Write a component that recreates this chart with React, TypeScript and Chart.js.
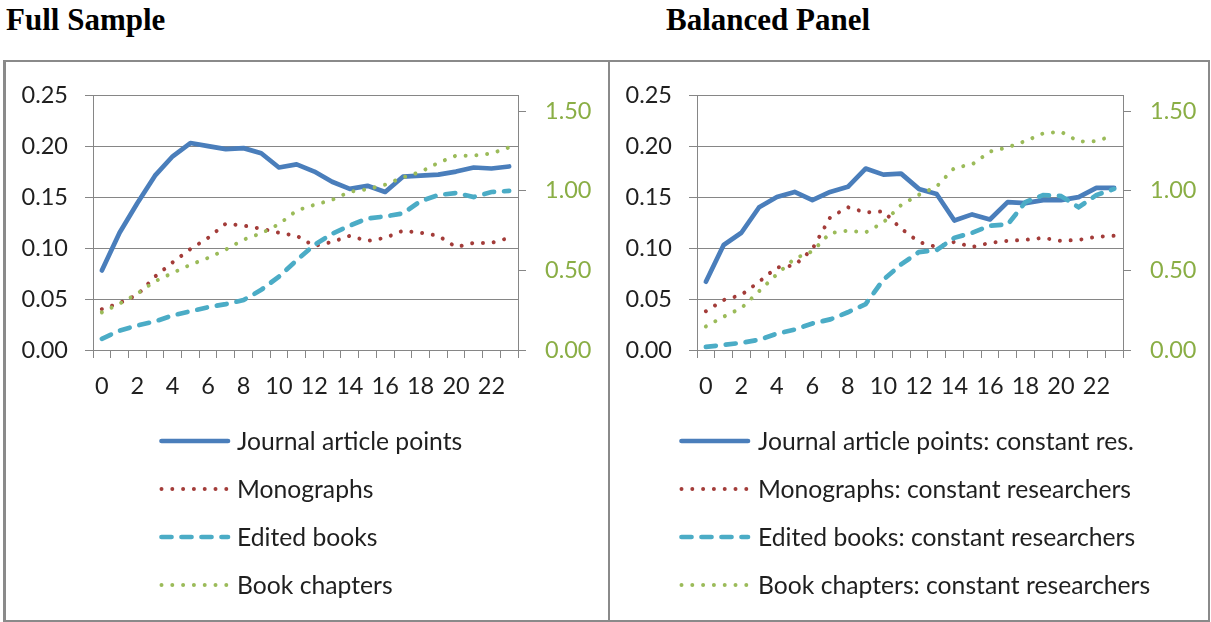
import React, { useEffect, useRef } from 'react';
import { Chart, registerables } from 'chart.js';

Chart.register(...registerables);

const categories = ['0','1','2','3','4','5','6','7','8','9','10','11','12','13','14','15','16','17','18','19','20','21','22','23'];
const shownXTicks = ['0','2','4','6','8','10','12','14','16','18','20','22'];

const fullJournal = [0.078,0.115,0.144,0.171,0.190,0.203,0.200,0.197,0.198,0.193,0.179,0.182,0.175,0.165,0.158,0.161,0.155,0.170,0.171,0.172,0.175,0.179,0.178,0.180];
const fullMonographs = [0.040,0.046,0.054,0.072,0.086,0.099,0.110,0.124,0.122,0.119,0.115,0.112,0.102,0.106,0.112,0.107,0.110,0.117,0.115,0.112,0.101,0.105,0.105,0.110];
const fullEdited = [0.011,0.019,0.024,0.028,0.034,0.038,0.042,0.045,0.049,0.059,0.072,0.088,0.103,0.114,0.122,0.129,0.131,0.134,0.146,0.152,0.154,0.150,0.155,0.156];
const fullChapters = [0.236,0.291,0.353,0.431,0.484,0.535,0.578,0.630,0.693,0.732,0.790,0.875,0.911,0.942,0.993,1.009,1.038,1.083,1.118,1.175,1.220,1.220,1.233,1.272];

const balJournal = [0.067,0.103,0.115,0.140,0.150,0.155,0.147,0.155,0.160,0.178,0.172,0.173,0.158,0.153,0.127,0.133,0.128,0.145,0.144,0.147,0.147,0.150,0.159,0.159];
const balMonographs = [0.038,0.049,0.054,0.067,0.081,0.083,0.099,0.130,0.140,0.135,0.136,0.119,0.106,0.101,0.106,0.101,0.105,0.107,0.108,0.110,0.107,0.108,0.111,0.112];
const balEdited = [0.003,0.005,0.007,0.010,0.016,0.020,0.026,0.030,0.037,0.045,0.069,0.084,0.096,0.098,0.110,0.115,0.122,0.123,0.145,0.152,0.151,0.140,0.152,0.158];
const balChapters = [0.148,0.209,0.263,0.369,0.476,0.574,0.619,0.734,0.749,0.738,0.800,0.910,0.974,1.026,1.143,1.165,1.245,1.272,1.311,1.360,1.370,1.309,1.311,1.348];

const fullLabels = ['Journal article points', 'Monographs', 'Edited books', 'Book chapters'];
const balLabels = [
  'Journal article points: constant res.',
  'Monographs: constant researchers',
  'Edited books: constant researchers',
  'Book chapters: constant researchers',
];

const leftTicks = [0, 0.05, 0.1, 0.15, 0.2, 0.25];
const rightTicks = [0, 0.5, 1.0, 1.5];

const BLUE = '#4A7EBB';
const RED = '#A33C39';
const CYAN = '#4BACC6';
const GREEN = '#9BBB59';
const AXIS = '#868686';
const TEXT = '#1f1f1f';
const FONT = 'Lato';

const legendPlugin = {
  id: 'vlegend',
  afterDraw(chart: any, _args: any, opts: any) {
    const ctx = chart.ctx;
    chart.data.datasets.forEach((ds: any, i: number) => {
      const y = opts.rows[i];
      ctx.save();
      ctx.strokeStyle = ds.borderColor;
      ctx.lineWidth = ds.borderWidth;
      ctx.lineCap = ds.borderCapStyle || 'butt';
      ctx.setLineDash(ds.borderDash || []);
      ctx.beginPath();
      const dotted = ds.borderDash && ds.borderDash[0] < 1;
      ctx.moveTo(opts.lineX0, y);
      ctx.lineTo(dotted ? opts.dotX1 : opts.lineX1, y);
      ctx.stroke();
      ctx.setLineDash([]);
      ctx.fillStyle = TEXT;
      ctx.font = `24.7px ${FONT}`;
      ctx.textBaseline = 'middle';
      ctx.textAlign = 'left';
      ctx.fillText(ds.label, opts.textX, y + 1);
      ctx.restore();
    });
  },
};

type PanelProps = {
  left: number;
  width: number;
  labels: string[];
  series: number[][];
  yLeftWidth: number;
  yRightWidth: number;
  legend: { lineX0: number; lineX1: number; dotX1: number; textX: number; rows: number[] };
};

function Panel(props: PanelProps) {
  const ref = useRef<HTMLCanvasElement>(null);
  useEffect(() => {
    if (!ref.current) return;
    const [j, m, e, c] = props.series;
    const chart = new Chart(ref.current, {
      type: 'line',
      data: {
        labels: categories,
        datasets: [
          { label: props.labels[0], data: j, yAxisID: 'y', borderColor: BLUE, borderWidth: 4.7, borderCapStyle: 'round', borderJoinStyle: 'round', pointRadius: 0, tension: 0, order: 3 } as any,
          { label: props.labels[1], data: m, yAxisID: 'y', borderColor: RED, borderWidth: 4, borderDash: [0.001, 10.8], borderCapStyle: 'round', pointRadius: 0, tension: 0, order: 2 } as any,
          { label: props.labels[2], data: e, yAxisID: 'y', borderColor: CYAN, borderWidth: 4.7, borderDash: [10, 10], borderCapStyle: 'round', pointRadius: 0, tension: 0, order: 1 } as any,
          { label: props.labels[3], data: c, yAxisID: 'y2', borderColor: GREEN, borderWidth: 4, borderDash: [0.001, 10.8], borderCapStyle: 'round', pointRadius: 0, tension: 0, order: 0 } as any,
        ],
      },
      options: {
        animation: false,
        responsive: false,
        events: [],
        layout: { padding: { top: 28, left: 0, right: 0, bottom: 0 } },
        plugins: {
          legend: { display: false },
          tooltip: { enabled: false },
          vlegend: props.legend,
        } as any,
        scales: {
          x: {
            type: 'category',
            offset: true,
            grid: { offset: true, drawOnChartArea: false, drawTicks: true, tickLength: 8, color: AXIS, lineWidth: 1 },
            border: { display: true, color: AXIS },
            ticks: {
              autoSkip: false,
              maxRotation: 0,
              minRotation: 0,
              padding: 14,
              color: TEXT,
              font: { family: FONT, size: 23.5 },
              callback: (_v: any, idx: number) => (shownXTicks.includes(categories[idx]) ? categories[idx] : ''),
            },
            afterFit: (s: any) => { s.height = 558 - 288; },
          },
          y: {
            position: 'left',
            min: 0,
            max: 0.25,
            afterBuildTicks: (s: any) => { s.ticks = leftTicks.map((v) => ({ value: v })); },
            grid: { color: AXIS, lineWidth: 1, drawTicks: true, tickLength: 8 },
            border: { display: true, color: AXIS },
            ticks: { padding: 17, color: TEXT, font: { family: FONT, size: 23.5 }, callback: (v: any) => Number(v).toFixed(2) },
            afterFit: (s: any) => { s.width = props.yLeftWidth; },
          },
          y2: {
            position: 'right',
            min: 0,
            max: 1.6,
            afterBuildTicks: (s: any) => { s.ticks = rightTicks.map((v) => ({ value: v })); },
            grid: { drawOnChartArea: false, color: AXIS, lineWidth: 1, drawTicks: true, tickLength: 8 },
            border: { display: true, color: AXIS },
            ticks: { padding: 19, color: '#8AAE45', font: { family: FONT, size: 23.5 }, callback: (v: any) => Number(v).toFixed(2) },
            afterFit: (s: any) => { s.width = props.yRightWidth; },
          },
        },
      } as any,
      plugins: [legendPlugin as any],
    });
    return () => chart.destroy();
  }, []);
  return (
    <canvas
      ref={ref}
      width={props.width}
      height={558}
      style={{ position: 'absolute', left: props.left, top: 62, width: props.width, height: 558, display: 'block' }}
    />
  );
}

const titleStyle: React.CSSProperties = {
  position: 'absolute',
  top: 4,
  fontFamily: '"Liberation Serif", "Times New Roman", serif',
  fontWeight: 'bold',
  fontSize: 31,
  lineHeight: '31px',
  color: '#000',
  whiteSpace: 'nowrap',
};

export default function App() {
  return (
    <div style={{ position: 'absolute', left: 0, top: 0, width: 1211, height: 622, background: '#fff', overflow: 'hidden' }}>
      <div style={{ ...titleStyle, left: 6 }}>Full Sample</div>
      <div style={{ ...titleStyle, left: 666 }}>Balanced Panel</div>
      <div
        style={{
          position: 'absolute',
          left: 3,
          top: 60,
          width: 1207,
          height: 562,
          boxSizing: 'border-box',
          borderTop: '2px solid #8a8a8a',
          borderLeft: '3px solid #8a8a8a',
          borderRight: '2px solid #8a8a8a',
          borderBottom: '2px solid #8a8a8a',
        }}
      />
      <div style={{ position: 'absolute', left: 608, top: 62, width: 2, height: 558, background: '#8a8a8a' }} />
      <Panel
        left={6}
        width={602}
        labels={fullLabels}
        series={[fullJournal, fullMonographs, fullEdited, fullChapters]}
        yLeftWidth={87}
        yRightWidth={90}
        legend={{ lineX0: 155.5, lineX1: 222, dotX1: 221, textX: 231, rows: [379, 427, 475, 523] }}
      />
      <Panel
        left={610}
        width={598}
        labels={balLabels}
        series={[balJournal, balMonographs, balEdited, balChapters]}
        yLeftWidth={87}
        yRightWidth={85}
        legend={{ lineX0: 71.5, lineX1: 138, dotX1: 137, textX: 148, rows: [379, 427, 475, 523] }}
      />
    </div>
  );
}
